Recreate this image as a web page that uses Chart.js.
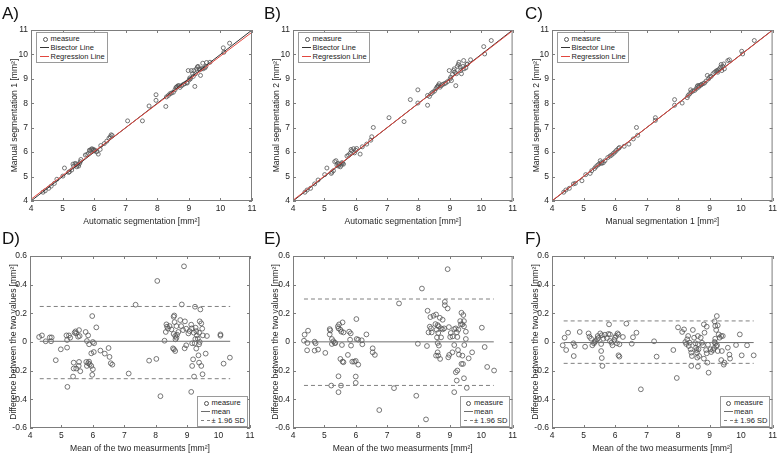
<!DOCTYPE html>
<html>
<head>
<meta charset="utf-8">
<script src="https://cdn.jsdelivr.net/npm/chart.js@4.4.0/dist/chart.umd.min.js"></script>
<style>
  body { margin: 0; background: #fff; }
  #fig { position: relative; width: 780px; height: 455px; overflow: hidden; font-family: "Liberation Sans", Arial, sans-serif; }
  .tag { position: absolute; font-size: 17px; line-height: 1; color: #111; }
  .lgd { position: absolute; background: #fff; border: 1px solid #9a9a9a; font-size: 7.5px; color: #222; padding: 1px 2px 1px 3px; box-sizing: border-box; }
  .row { display: flex; align-items: center; height: 9px; white-space: nowrap; }
  .smp { position: relative; width: 9px; height: 9px; margin-right: 1.5px; flex: none; }
</style>
</head>
<body>
<div id="fig"></div>
<script>
// ---- data ----
const axisRange = [4, 11];
const scatterTicks = [4, 5, 6, 7, 8, 9, 10, 11];
const scatterTickLabels = ['4', '5', '6', '7', '8', '9', '10', '11'];
const baTicks = [-0.6, -0.4, -0.2, 0, 0.2, 0.4, 0.6];
const baTickLabels = ['-0.6', '-0.4', '-0.2', '0', '0.2', '0.4', '0.6'];

// A) automatic vs manual 1
const aAuto = [4.38,4.45,4.56,4.64,4.74,4.82,5.01,5.06,5.19,5.22,5.29,5.33,5.35,5.40,5.43,5.45,5.47,5.51,5.54,5.56,5.58,5.72,5.77,5.82,5.85,5.87,5.91,5.93,5.96,5.98,6.00,6.03,6.08,6.13,6.19,6.21,6.32,6.40,6.47,6.51,6.54,6.57,7.06,7.53,7.74,7.96,7.96,8.27,8.29,8.35,8.40,8.45,8.51,8.56,8.59,8.61,8.63,8.66,8.69,8.72,8.77,8.82,8.87,8.93,8.95,8.98,9.01,9.03,9.05,9.08,9.12,9.14,9.16,9.19,9.21,9.24,9.27,9.29,9.33,9.35,9.37,9.41,9.44,9.45,9.51,9.54,9.56,9.67,10.09,10.11,10.29];
const aMan1 = [4.36,4.42,4.52,4.61,4.72,4.89,5.02,5.35,5.17,5.20,5.27,5.51,5.43,5.54,5.51,5.40,5.47,5.43,5.54,5.61,5.70,5.88,5.90,5.95,6.08,6.05,6.11,6.14,6.08,6.11,6.05,6.08,6.01,5.92,6.11,6.27,6.35,6.45,6.57,6.63,6.71,6.68,7.28,7.28,7.89,8.35,8.12,7.87,8.26,8.32,8.39,8.42,8.45,8.55,8.64,8.66,8.69,8.72,8.72,8.65,8.72,8.77,8.80,8.85,8.83,9.34,8.96,9.04,9.00,9.34,9.21,9.10,9.34,8.69,9.21,9.41,9.48,9.51,9.41,9.37,9.14,9.42,9.64,9.41,9.45,9.51,9.67,9.68,10.27,10.09,10.46];
const aRegression = [4.07, 10.91];

// B) automatic vs manual 2
const bAuto = [4.38,4.45,4.56,4.69,4.80,5.01,5.08,5.22,5.24,5.29,5.33,5.37,5.40,5.43,5.45,5.47,5.51,5.54,5.56,5.58,5.61,5.72,5.77,5.82,5.85,5.87,5.93,5.96,6.00,6.03,6.14,6.21,6.35,6.48,6.51,6.56,7.06,7.54,7.74,7.98,7.98,8.29,8.29,8.35,8.40,8.45,8.51,8.56,8.59,8.61,8.63,8.66,8.69,8.72,8.77,8.82,8.87,8.93,8.98,9.01,9.03,9.05,9.08,9.12,9.14,9.16,9.19,9.21,9.24,9.27,9.29,9.33,9.35,9.37,9.41,9.44,9.45,9.51,9.54,9.56,9.66,10.08,10.11,10.32];
const bMan2 = [4.36,4.45,4.52,4.70,4.86,5.08,5.35,5.13,5.18,5.24,5.61,5.65,5.47,5.54,5.43,5.51,5.40,5.47,5.57,5.54,5.51,5.84,5.88,5.95,6.11,6.05,6.14,5.97,6.08,6.15,5.92,6.22,6.33,6.49,6.63,7.01,7.41,7.25,8.15,8.55,8.01,7.92,8.32,8.28,8.39,8.45,8.50,8.60,8.66,8.69,8.73,8.80,8.66,8.72,8.77,8.80,8.83,8.89,9.34,9.00,9.07,8.93,9.18,9.34,9.41,9.27,8.72,9.21,9.51,9.59,9.68,9.48,9.34,9.21,9.51,9.75,9.41,9.45,9.59,9.61,9.78,10.32,10.02,10.57];
const bRegression = [4.03, 10.97];

// C) manual 1 vs manual 2
const cMan1 = [4.37,4.44,4.55,4.68,4.74,4.95,5.07,5.21,5.26,5.35,5.39,5.45,5.49,5.53,5.56,5.58,5.63,5.68,5.77,5.84,5.89,5.95,6.00,6.05,6.11,6.14,6.29,6.44,6.58,6.68,6.72,7.28,7.28,7.89,7.89,8.13,8.29,8.32,8.37,8.40,8.42,8.47,8.53,8.58,8.61,8.63,8.65,8.68,8.72,8.74,8.79,8.84,8.89,8.93,8.97,9.00,9.05,9.11,9.16,9.21,9.24,9.26,9.28,9.32,9.35,9.37,9.39,9.42,9.45,9.47,9.58,9.63,10.02,10.05,10.42];
const cMan2 = [4.36,4.45,4.52,4.70,4.72,4.83,5.08,5.13,5.24,5.33,5.40,5.47,5.51,5.65,5.57,5.54,5.57,5.65,5.78,5.84,5.88,5.95,6.01,6.08,6.15,6.19,6.24,6.33,6.54,7.01,6.69,7.41,7.30,8.15,7.92,8.01,8.23,8.32,8.39,8.55,8.46,8.50,8.53,8.60,8.69,8.73,8.66,8.72,8.74,8.77,8.80,8.83,8.91,9.14,9.00,9.07,9.10,9.21,9.27,9.32,9.34,9.27,9.37,9.41,9.48,9.59,9.34,9.51,9.61,9.41,9.75,9.78,10.13,10.02,10.57];
const cRegression = [4.01, 10.99];

// D) Bland-Altman automatic / manual 1
const dMean = [4.29,4.38,4.50,4.63,4.69,4.67,4.98,4.82,5.16,5.18,5.24,5.28,5.18,5.37,5.19,5.42,5.45,5.47,5.56,5.53,5.58,5.39,5.56,5.55,5.39,5.47,5.60,5.77,5.85,5.81,5.88,5.79,5.85,5.88,5.90,5.81,5.98,6.11,6.00,6.04,5.95,6.03,5.95,6.00,5.98,6.24,6.38,6.50,6.53,6.57,6.62,
  7.36,7.14,7.79,8.02,8.05,8.15,
  8.90,8.83,9.25,9.42,8.28,8.34,8.36,8.39,8.32,8.44,8.50,8.57,8.59,8.60,8.66,8.57,8.62,8.66,8.63,8.68,8.72,8.78,8.81,8.87,8.93,8.97,9.04,9.08,9.13,9.15,9.21,9.27,9.29,9.31,9.34,9.40,9.26,9.40,9.45,9.48,9.50,9.63,9.38,8.58,8.55,8.62,8.92,8.97,9.16,9.24,9.38,9.29,9.36,9.19,9.16,9.38,9.45,9.59,9.49,9.22,9.13,10.06,10.06,10.16,10.36];
const dDiff = [0.035,0.046,0.005,0.032,0.032,0.005,-0.051,-0.127,0.046,0.014,0.046,0.030,-0.039,-0.241,-0.313,0.065,0.074,0.060,0.083,0.037,0.042,-0.144,-0.139,-0.167,-0.185,-0.185,-0.204,0.070,0.046,0.007,-0.016,-0.139,-0.148,-0.137,-0.155,-0.167,0.181,0.102,0.000,-0.009,-0.079,-0.070,-0.167,-0.190,-0.229,-0.060,-0.081,-0.042,-0.104,-0.148,-0.158,
  0.260,-0.220,-0.130,-0.118,0.426,-0.378,
  0.528,0.262,0.246,0.227,0.009,0.123,0.107,0.093,0.070,0.111,0.088,0.176,0.185,0.139,0.111,0.056,0.042,0.030,0.019,0.051,0.070,0.153,0.111,0.083,0.144,0.093,0.060,0.076,0.121,0.095,0.065,0.100,0.076,0.046,0.023,0.000,0.021,0.144,0.130,0.093,0.046,0.042,0.065,-0.051,-0.044,-0.063,-0.044,-0.023,-0.009,-0.009,-0.016,-0.046,-0.093,-0.121,-0.167,-0.144,-0.167,-0.081,-0.225,-0.241,-0.348,0.053,0.044,-0.151,-0.109];
const dSpan = [4.31, 10.37];
const dStats = [0.005, 0.248, -0.256]; // mean, +1.96 SD, -1.96 SD

// E) Bland-Altman automatic / manual 2
const eMean = [4.37,4.48,4.35,4.46,4.45,4.69,4.72,4.80,4.69,5.03,5.17,5.17,5.19,5.24,5.29,5.33,5.24,5.35,5.43,5.47,5.45,5.51,5.58,5.54,5.56,5.61,5.51,5.58,5.61,5.45,5.53,5.22,5.45,5.79,5.84,5.75,5.82,5.85,5.89,5.95,6.00,6.08,6.02,6.03,6.08,6.19,6.21,6.34,6.54,6.54,6.61,6.00,6.00,
  6.75,7.38,7.22,7.93,8.24,8.11,8.93,
  7.98,8.27,8.29,8.36,8.32,8.40,8.42,8.38,8.48,8.56,8.54,8.61,8.58,8.64,8.63,8.68,8.77,8.72,8.77,8.82,8.59,8.61,8.65,8.61,8.63,8.69,8.56,8.72,8.84,8.84,8.93,8.97,9.03,9.01,9.09,9.14,9.08,8.98,8.95,9.14,9.19,9.22,9.24,9.27,9.33,9.37,9.43,9.45,9.35,9.40,9.45,9.51,9.51,9.46,9.26,9.29,9.40,9.37,9.42,9.24,9.19,9.22,9.45,9.54,9.14,9.60,9.71,10.02,10.11,10.19,10.41];
const eDiff = [0.051,0.079,0.009,-0.007,-0.058,0.002,-0.009,-0.053,-0.060,-0.076,0.090,0.053,0.081,0.021,0.005,-0.007,-0.014,-0.007,0.109,0.123,0.095,0.086,0.137,0.072,-0.021,0.067,-0.118,-0.137,-0.141,-0.239,-0.304,-0.304,-0.350,0.072,0.060,-0.090,0.016,-0.025,-0.137,-0.137,-0.132,-0.158,0.160,0.021,0.016,0.012,-0.016,0.053,-0.044,-0.072,-0.090,-0.241,-0.285,
  -0.475,0.269,-0.322,-0.375,-0.540,0.373,0.508,
  -0.012,-0.028,0.218,0.107,0.067,0.095,0.067,0.174,0.183,0.192,0.125,0.118,0.086,0.109,0.063,0.169,0.155,0.095,0.088,0.095,0.032,-0.007,-0.025,-0.072,-0.095,-0.118,-0.095,0.032,0.257,0.280,0.234,0.104,0.063,0.035,0.039,-0.021,-0.072,-0.090,-0.107,0.090,0.095,0.067,0.035,0.086,0.146,0.204,0.188,0.146,0.123,0.123,0.109,0.072,0.021,-0.021,-0.056,-0.088,-0.095,-0.153,-0.153,-0.199,-0.211,-0.269,-0.253,-0.320,-0.350,-0.114,-0.072,0.100,-0.035,-0.174,-0.199];
const eSpan = [4.35, 10.40];
const eStats = [0.001, 0.300, -0.303];

// F) Bland-Altman manual 1 / manual 2
const fMean = [4.34,4.40,4.45,4.51,4.68,4.72,4.69,4.88,5.05,5.16,5.19,5.24,5.28,5.33,5.35,5.39,5.43,5.45,5.47,5.53,5.58,5.63,5.56,5.56,5.58,5.60,5.68,5.74,5.79,5.81,5.84,5.84,5.89,5.92,5.98,6.00,6.03,6.06,6.08,6.11,6.14,6.11,6.14,6.25,6.36,6.53,6.57,6.68,7.24,7.32,6.82,
  7.96,7.85,8.00,8.13,8.19,8.23,8.26,8.29,8.32,8.34,8.37,8.40,8.42,8.44,8.47,8.51,8.55,8.57,8.59,8.60,8.63,8.63,8.65,8.67,8.61,8.42,8.63,8.72,8.76,8.79,8.82,8.84,8.89,8.91,8.95,8.97,8.93,9.03,9.05,9.11,9.14,9.16,9.18,9.18,9.21,9.24,9.26,9.16,9.18,9.21,9.23,9.26,9.29,9.32,9.37,9.39,9.42,9.37,9.45,9.47,9.58,9.63,9.65,9.84,9.96,10.02,10.19,10.40,8.82,8.91];
const fDiff = [-0.023,0.030,-0.056,0.065,-0.009,-0.028,-0.098,0.070,-0.033,0.060,0.037,0.023,-0.023,-0.009,0.000,0.007,0.019,0.042,0.028,0.060,0.047,0.023,-0.014,-0.063,-0.112,-0.167,0.051,0.028,0.056,0.123,0.053,0.007,-0.005,-0.023,0.014,0.030,0.042,-0.009,0.060,0.051,-0.016,-0.093,-0.102,0.035,0.128,-0.012,0.033,0.065,0.005,-0.102,-0.330,
  -0.251,-0.056,0.102,0.070,0.088,0.000,-0.014,0.019,0.042,-0.028,-0.005,-0.051,-0.074,-0.098,0.084,0.030,-0.009,-0.040,-0.056,-0.074,0.042,-0.016,-0.051,-0.098,-0.109,-0.167,-0.172,0.030,-0.005,-0.023,0.123,0.065,-0.056,-0.079,-0.019,-0.214,-0.144,-0.051,-0.070,-0.056,-0.042,0.000,0.023,-0.009,-0.028,-0.023,-0.063,0.144,0.112,0.084,0.181,0.116,0.053,0.030,0.042,-0.063,0.042,-0.126,-0.158,-0.144,-0.040,-0.088,-0.116,-0.021,0.053,-0.093,-0.023,-0.093,-0.116,0.107];
const fSpan = [4.37, 10.40];
const fStats = [-0.004, 0.147, -0.149];

// ---- styles ----
const FONT = "'Liberation Sans', Arial, Helvetica, sans-serif";
const INK = '#262626';
const BOX = '#7d7d7d';
const MARK = '#555';

const zip = (xs, ys) => xs.map((x, i) => ({ x: x, y: ys[i] }));

// MATLAB style box with inward ticks, drawn from the chart's own scales
const matlabBox = {
  id: 'matlabBox',
  afterDatasetsDraw(chart) {
    const { ctx, chartArea: a, scales: { x, y } } = chart;
    ctx.save();
    ctx.strokeStyle = BOX;
    ctx.lineWidth = 1;
    ctx.strokeRect(a.left + 0.5, a.top + 0.5, a.width - 1, a.height - 1);
    ctx.beginPath();
    x.ticks.forEach(t => {
      const px = Math.round(x.getPixelForValue(t.value)) + 0.5;
      ctx.moveTo(px, a.bottom); ctx.lineTo(px, a.bottom - 3);
      ctx.moveTo(px, a.top); ctx.lineTo(px, a.top + 3);
    });
    y.ticks.forEach(t => {
      const py = Math.round(y.getPixelForValue(t.value)) + 0.5;
      ctx.moveTo(a.left, py); ctx.lineTo(a.left + 3, py);
      ctx.moveTo(a.right, py); ctx.lineTo(a.right - 3, py);
    });
    ctx.stroke();
    ctx.restore();
  }
};

function axis(title, ticks, labels, size, titlePad, horizontal) {
  return {
    type: 'linear',
    min: ticks[0],
    max: ticks[ticks.length - 1],
    afterBuildTicks: s => { s.ticks = ticks.map(v => ({ value: v })); },
    afterFit: s => { if (horizontal) s.height = size; else s.width = size; },
    grid: { display: false, drawTicks: false },
    border: { display: false },
    ticks: {
      font: { family: FONT, size: 8.5 }, color: INK, padding: 3,
      autoSkip: false, maxRotation: 0,
      callback: (v, i) => labels[i]
    },
    title: {
      display: true, text: title, color: INK,
      font: { family: FONT, size: 8.6 },
      padding: horizontal ? { top: 0, bottom: 1.5 } : { top: titlePad, bottom: 0 }
    }
  };
}

function pointSet(xs, ys, r) {
  return {
    label: 'measure', data: zip(xs, ys), showLine: false, order: 3,
    pointRadius: r, pointBorderWidth: 0.8, pointBorderColor: MARK,
    pointBackgroundColor: 'rgba(0,0,0,0)', lg: 'marker'
  };
}
function lineSet(label, xs, ys, color, dash, order) {
  return {
    label: label, data: zip(xs, ys), showLine: true, pointRadius: 0, order: order,
    borderColor: color, borderWidth: 1, borderDash: dash, lg: dash.length ? 'dash' : 'solid'
  };
}

function scatterSets(xs, ys, reg) {
  return [
    pointSet(xs, ys, 2),
    lineSet('Bisector Line', axisRange, axisRange, '#333', [], 1),
    lineSet('Regression Line', axisRange, reg, '#e2473f', [], 0)
  ];
}
function blandSets(xs, ys, span, st) {
  const lower = lineSet('', span, [st[2], st[2]], '#808080', [4, 3], 2);
  lower.lg = null;
  return [
    pointSet(xs, ys, 2.4),
    lineSet('mean', span, [st[0], st[0]], '#6e6e6e', [], 1),
    lineSet('\u00b1 1.96 SD', span, [st[1], st[1]], '#808080', [4, 3], 2),
    lower
  ];
}

// ---- layout of the six panels ----
const panels = [
  { tag: 'A)', tagPos: [2, 5],   box: [0, 0, 260, 228],     plot: [31, 252, 30, 201], yPad: 9.5,
    xTitle: 'Automatic segmentation [mm\u00b2]', yTitle: 'Manual segmentation 1 [mm\u00b2]',
    sets: scatterSets(aAuto, aMan1, aRegression), ticks: 'sc', legend: 'nw' },
  { tag: 'B)', tagPos: [264, 5], box: [260, 0, 260, 228],   plot: [33, 254, 30, 201], yPad: 11.5,
    xTitle: 'Automatic segmentation [mm\u00b2]', yTitle: 'Manual segmentation 2 [mm\u00b2]',
    sets: scatterSets(bAuto, bMan2, bRegression), ticks: 'sc', legend: 'nw' },
  { tag: 'C)', tagPos: [525, 5], box: [520, 0, 260, 228],   plot: [32, 254, 30, 201], yPad: 11.5,
    xTitle: 'Manual segmentation 1 [mm\u00b2]', yTitle: 'Manual segmentation 2 [mm\u00b2]',
    sets: scatterSets(cMan1, cMan2, cRegression), ticks: 'sc', legend: 'nw' },
  { tag: 'D)', tagPos: [2, 230], box: [0, 228, 260, 227],   plot: [30, 250, 28, 200], yPad: 8.5,
    xTitle: 'Mean of the two measurments [mm\u00b2]', yTitle: 'Difference between the two values [mm\u00b2]',
    sets: blandSets(dMean, dDiff, dSpan, dStats), ticks: 'ba', legend: 'se' },
  { tag: 'E)', tagPos: [264, 230], box: [260, 228, 260, 227], plot: [33, 254, 28, 200], yPad: 10.5,
    xTitle: 'Mean of the two measurments [mm\u00b2]', yTitle: 'Difference between the two values [mm\u00b2]',
    sets: blandSets(eMean, eDiff, eSpan, eStats), ticks: 'ba', legend: 'se' },
  { tag: 'F)', tagPos: [525, 230], box: [520, 228, 260, 227], plot: [32, 254, 28, 200], yPad: 10.5,
    xTitle: 'Mean of the two measurments [mm\u00b2]', yTitle: 'Difference between the two values [mm\u00b2]',
    sets: blandSets(fMean, fDiff, fSpan, fStats), ticks: 'ba', legend: 'se' }
];

function sample(kind, color) {
  const s = document.createElement('span');
  s.className = 'smp';
  const m = document.createElement('span');
  m.style.position = 'absolute';
  if (kind === 'marker') {
    m.style.cssText += 'left:2.5px;top:2.5px;width:3px;height:3px;border:0.8px solid ' + MARK + ';border-radius:50%;';
  } else {
    m.style.cssText += 'left:0;top:4px;width:9px;height:0;border-top:1px ' + (kind === 'dash' ? 'dashed ' : 'solid ') + color + ';';
  }
  s.appendChild(m);
  return s;
}

function addLegend(chart, p, fig) {
  const box = document.createElement('div');
  box.className = 'lgd';
  chart.data.datasets.filter(d => d.lg).forEach(d => {
    const row = document.createElement('div');
    row.className = 'row';
    row.appendChild(sample(d.lg, d.borderColor));
    const t = document.createElement('span');
    t.textContent = d.label;
    row.appendChild(t);
    box.appendChild(row);
  });
  fig.appendChild(box);
  const a = chart.chartArea;
  if (p.legend === 'nw') {
    box.style.left = (p.box[0] + a.left + 5) + 'px';
    box.style.top = (p.box[1] + a.top + 2) + 'px';
  } else {
    box.style.left = (p.box[0] + a.right - 2 - box.offsetWidth) + 'px';
    box.style.top = (p.box[1] + a.bottom - 1 - box.offsetHeight) + 'px';
  }
}

const fig = document.getElementById('fig');
panels.forEach(p => {
  const [left, top, w, h] = p.box;
  const [pl, pr, pt, pb] = p.plot;
  const cv = document.createElement('canvas');
  cv.width = w; cv.height = h;
  cv.style.cssText = `position:absolute;left:${left}px;top:${top}px;width:${w}px;height:${h}px`;
  fig.appendChild(cv);

  const tk = p.ticks === 'sc' ? [scatterTicks, scatterTickLabels, scatterTicks, scatterTickLabels]
                              : [scatterTicks, scatterTickLabels, baTicks, baTickLabels];
  const chart = new Chart(cv.getContext('2d'), {
    type: 'scatter',
    data: { datasets: p.sets },
    options: {
      responsive: false,
      animation: false,
      events: [],
      layout: { padding: { left: 0, right: w - pr, top: pt, bottom: 0 } },
      plugins: { legend: { display: false }, tooltip: { enabled: false } },
      scales: {
        x: axis(p.xTitle, tk[0], tk[1], h - pb, 0, true),
        y: axis(p.yTitle, tk[2], tk[3], pl, p.yPad, false)
      }
    },
    plugins: [matlabBox]
  });

  const tag = document.createElement('div');
  tag.className = 'tag';
  tag.textContent = p.tag;
  tag.style.left = p.tagPos[0] + 'px';
  tag.style.top = p.tagPos[1] + 'px';
  fig.appendChild(tag);

  addLegend(chart, p, fig);
});
</script>
</body>
</html>
